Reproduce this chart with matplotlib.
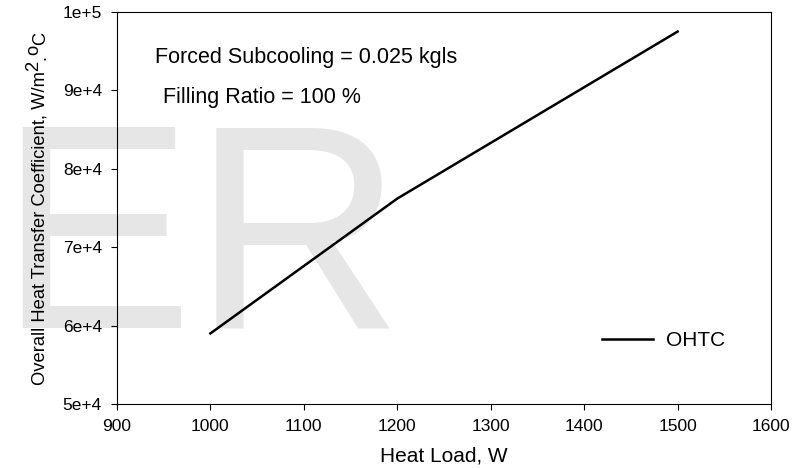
import matplotlib
matplotlib.use('Agg')
import matplotlib.pyplot as plt
from matplotlib.ticker import FuncFormatter

plt.rcParams['font.family'] = ['Liberation Sans', 'DejaVu Sans']

# data
heat_load = [1000, 1200, 1500]
ohtc = [59000, 76200, 97500]

x_ticks = [900, 1000, 1100, 1200, 1300, 1400, 1500, 1600]
y_ticks = [50000, 60000, 70000, 80000, 90000, 100000]
y_tick_labels = ['5e+4', '6e+4', '7e+4', '8e+4', '9e+4', '1e+5']

fig = plt.figure(figsize=(7.92, 4.68), dpi=100)
ax = fig.add_axes([0.1477, 0.1368, 0.8258, 0.8376])
ax.patch.set_alpha(0)

# big grey watermark behind everything
fig.text(-0.002, 0.301, 'ER', fontsize=210, color='#e6e6e6',
         ha='left', va='baseline', zorder=-1)

ax.plot(heat_load, ohtc, color='black', lw=1.8, label='OHTC')

ax.set_xlim(900, 1600)
ax.set_ylim(50000, 100000)
ax.set_xticks(x_ticks)
ax.set_yticks(y_ticks)
ax.yaxis.set_major_formatter(FuncFormatter(lambda v, p: y_tick_labels[y_ticks.index(int(round(v)))]))
ax.tick_params(direction='out', length=4.3, width=0.8, labelsize=12.5)
ax.tick_params(axis='y', pad=6.5)
ax.tick_params(axis='x', pad=6.5)

ax.set_xlabel('Heat Load, W', fontsize=15)
ax.xaxis.set_label_coords(0.5, -0.1077)

# y label, with raised "2" and "o" kept at full size like the original
fs = 13.2
yl = ax.set_ylabel('Overall Heat Transfer Coefficient, W/m', fontsize=fs)
ax.yaxis.set_label_coords(-0.104, 0.450)
prev = yl
for ch, dx in [('2', -5), ('.', 5), ('o', -5), ('C', 5)]:
    prev = ax.annotate(ch, xy=(1, 1), xycoords=prev, xytext=(dx, 0),
                       textcoords='offset points', rotation=90,
                       ha='right', va='bottom', fontsize=fs)

ax.text(0.058, 0.8827, 'Forced Subcooling = 0.025 kgls', transform=ax.transAxes,
        fontsize=15.5, va='center', ha='left')
ax.text(0.0703, 0.783, 'Filling Ratio = 100 %', transform=ax.transAxes,
        fontsize=15.5, va='center', ha='left')

ax.legend(loc='center left', frameon=False, fontsize=15, handlelength=2.45,
          handletextpad=0.6, borderpad=0, borderaxespad=0,
          bbox_to_anchor=(0.7416, 0.1607))

plt.savefig('out.png', dpi=100)
